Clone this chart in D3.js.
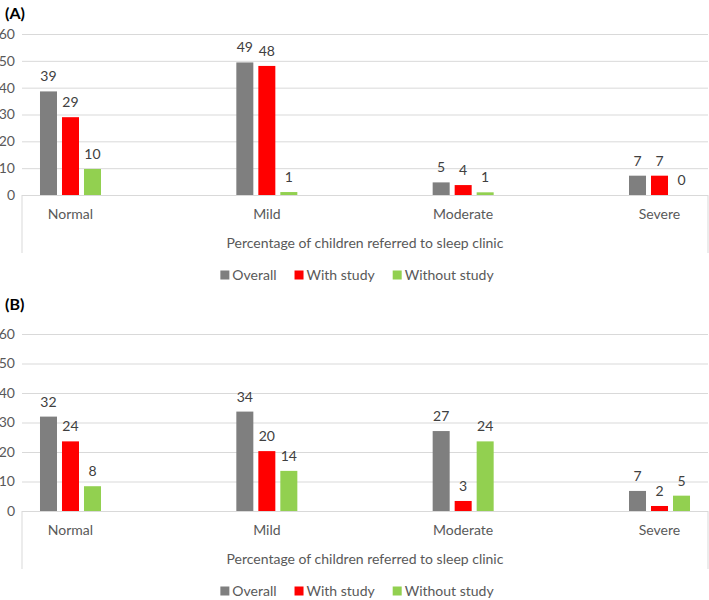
<!DOCTYPE html>
<html lang="en">
<head>
    <meta charset="UTF-8">
    <title>Percentage of children referred to sleep clinic</title>
    <script src="https://d3js.org/d3.v7.min.js"></script>
    <style>
        body { margin: 0; background: #fff; font-family: Lato, 'Open Sans', sans-serif; }
        svg text { fill: #595959; }
    </style>
</head>
<body>
    <div id="chart"></div>

    <script>
        // Data
        const categories = ['Normal', 'Mild', 'Moderate', 'Severe'];
        const seriesNames = ['Overall', 'With study', 'Without study'];
        const seriesColors = ['#7f7f7f', '#ff0000', '#92d050'];
        const yTicks = [0, 10, 20, 30, 40, 50, 60];
        const axisTitle = 'Percentage of children referred to sleep clinic';

        const overallA = [38.6, 49.4, 4.7, 7.2];
        const withStudyA = [29.0, 48.1, 3.7, 7.2];
        const withoutStudyA = [9.7, 1.1, 1.0, 0];

        const overallB = [32.0, 33.7, 27.1, 6.8];
        const withStudyB = [23.6, 20.3, 3.4, 1.7];
        const withoutStudyB = [8.4, 13.6, 23.6, 5.2];

        // Layout of the two panels
        const panels = [
            { name: '(A)', nameY: 13, top: 34, zero: 195, series: [overallA, withStudyA, withoutStudyA] },
            { name: '(B)', nameY: 304, top: 334, zero: 511, series: [overallB, withStudyB, withoutStudyB] }
        ];

        const width = 709, height = 600;
        const left = 22, right = 708;

        const svg = d3.select('#chart').append('svg')
            .attr('width', width)
            .attr('height', height);

        const x = d3.scalePoint()
            .domain(categories)
            .range([left, right])
            .padding(0.247);

        const xInner = d3.scaleBand()
            .domain(seriesNames)
            .range([-30.5, 30.5])
            .paddingInner(0.227);

        panels.forEach(p => {
            const g = svg.append('g');

            const y = d3.scaleLinear()
                .domain([0, 60])
                .range([p.zero, p.top]);

            // panel label
            g.append('text')
                .attr('x', 5)
                .attr('y', p.nameY)
                .attr('dy', '0.35em')
                .attr('font-size', '16px')
                .attr('font-weight', 'bold')
                .style('fill', '#000')
                .text(p.name);

            // gridlines + tick labels
            const yAxis = g.append('g')
                .attr('transform', `translate(${left},0)`)
                .call(d3.axisLeft(y)
                    .tickValues(yTicks)
                    .tickSizeInner(-(right - left))
                    .tickSizeOuter(0)
                    .tickPadding(7));
            yAxis.select('.domain').remove();
            yAxis.selectAll('line').attr('stroke', '#d9d9d9');
            yAxis.selectAll('text')
                .attr('font-size', '14px')
                .attr('font-family', 'Lato, sans-serif')
                .style('fill', '#595959');

            // category box sides
            [left, right].forEach(xx => {
                g.append('line')
                    .attr('x1', xx).attr('x2', xx)
                    .attr('y1', p.zero).attr('y2', p.zero + 58)
                    .attr('stroke', '#d9d9d9');
            });

            // bars
            seriesNames.forEach((s, si) => {
                const vals = p.series[si];
                g.selectAll(null)
                    .data(vals)
                    .enter().append('rect')
                    .attr('x', (d, i) => x(categories[i]) + xInner(s))
                    .attr('y', d => y(d))
                    .attr('width', xInner.bandwidth())
                    .attr('height', d => y(0) - y(d))
                    .attr('fill', seriesColors[si]);

                g.selectAll(null)
                    .data(vals)
                    .enter().append('text')
                    .attr('x', (d, i) => x(categories[i]) + xInner(s) + xInner.bandwidth() / 2)
                    .attr('y', d => y(d) - 10)
                    .attr('text-anchor', 'middle')
                    .attr('font-size', '14px')
                    .style('fill', '#404040')
                    .text(d => Math.round(d));
            });

            // category labels
            g.selectAll(null)
                .data(categories)
                .enter().append('text')
                .attr('x', d => x(d))
                .attr('y', p.zero + 19)
                .attr('dy', '0.35em')
                .attr('text-anchor', 'middle')
                .attr('font-size', '14px')
                .text(d => d);

            // axis title
            g.append('text')
                .attr('x', 365)
                .attr('y', p.zero + 48)
                .attr('dy', '0.35em')
                .attr('text-anchor', 'middle')
                .attr('font-size', '14px')
                .text(axisTitle);

            // legend
            const legend = g.append('g');
            let cx = 0;
            seriesNames.forEach((s, si) => {
                const item = legend.append('g').attr('transform', `translate(${cx},0)`);
                item.append('rect')
                    .attr('x', 0).attr('y', -4.5)
                    .attr('width', 9).attr('height', 9)
                    .attr('fill', seriesColors[si]);
                const t = item.append('text')
                    .attr('x', 12)
                    .attr('dy', '0.35em')
                    .attr('font-size', '14px')
                    .text(s);
                cx += 12 + t.node().getComputedTextLength() + 18;
            });
            const legendW = cx - 18;
            legend.attr('transform', `translate(${357 - legendW / 2},${p.zero + 80})`);
        });
    </script>
</body>
</html>
